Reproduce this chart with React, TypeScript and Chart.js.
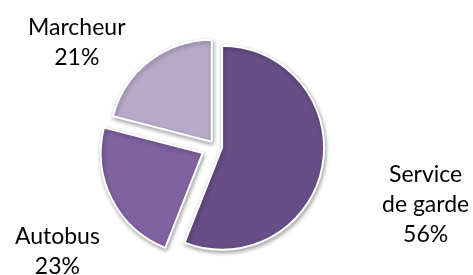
import React, { useEffect, useRef } from "react";
import { Chart, registerables } from "chart.js";

Chart.register(...registerables);

// ---- data ----
const categories = ["Service de garde", "Autobus", "Marcheur"];
const categoryLines = [["Service", "de garde"], ["Autobus"], ["Marcheur"]];
const values = [56, 23, 21];
const sliceColors = ["#684E86", "#8062A1", "#B7AAC9"];

// ---- layout (not data) ----
const explodePx = [6.7, 14.3, 6.1];
// label block centres, in units of the pie radius, relative to the pie centre
const labelAnchors = [
  [2.06, 0.56],
  [-1.55, 1.02],
  [-1.36, -1.02],
];

const explodePlugin = {
  id: "explode",
  afterDatasetUpdate(chart: any, args: any) {
    const meta = args.meta;
    const els = meta.data;
    if (!els.length) return;
    chart.$pieCenter = { x: els[0].x, y: els[0].y, r: els[0].outerRadius };
    els.forEach((el: any, i: number) => {
      const mid = (el.startAngle + el.endAngle) / 2;
      const d = explodePx[i] || 0;
      el.x = chart.$pieCenter.x + Math.cos(mid) * d;
      el.y = chart.$pieCenter.y + Math.sin(mid) * d;
    });
  },
};

const shadowPlugin = {
  id: "sliceShadow",
  beforeDatasetsDraw(chart: any) {
    const ctx = chart.ctx;
    ctx.save();
    ctx.shadowColor = "rgba(0,0,0,0.35)";
    ctx.shadowBlur = 4;
    ctx.shadowOffsetX = 1;
    ctx.shadowOffsetY = 2;
  },
  afterDatasetsDraw(chart: any) {
    chart.ctx.restore();
  },
};

const labelPlugin = {
  id: "pieLabels",
  afterDraw(chart: any) {
    const c = chart.$pieCenter;
    if (!c) return;
    const ctx = chart.ctx;
    const total = values.reduce((a, b) => a + b, 0);
    ctx.save();
    ctx.fillStyle = "#000000";
    ctx.font = "23px Lato, 'Open Sans', sans-serif";
    ctx.textAlign = "center";
    ctx.textBaseline = "alphabetic";
    const lh = 30;
    values.forEach((v, i) => {
      const lines = [...categoryLines[i], Math.round((v / total) * 100) + "%"];
      const cx = c.x + labelAnchors[i][0] * c.r;
      const cy = c.y + labelAnchors[i][1] * c.r;
      lines.forEach((t, k) => {
        const y = cy + (k - (lines.length - 1) / 2) * lh + 8;
        ctx.fillText(t, cx, y);
      });
    });
    ctx.restore();
  },
};

export default function App() {
  const ref = useRef<HTMLCanvasElement | null>(null);
  useEffect(() => {
    if (!ref.current) return;
    const chart = new Chart(ref.current, {
      type: "pie",
      data: {
        labels: categories,
        datasets: [
          {
            data: values,
            backgroundColor: sliceColors,
            borderColor: "#FFFFFF",
            borderWidth: 2,
          },
        ],
      },
      options: {
        responsive: false,
        animation: false,
        radius: 102,
        layout: { padding: { left: 0, right: 42, top: 18, bottom: 0 } },
        plugins: {
          legend: { display: false },
          tooltip: { enabled: false },
        },
      },
      plugins: [explodePlugin, shadowPlugin, labelPlugin],
    });
    return () => chart.destroy();
  }, []);
  return (
    <div style={{ position: "fixed", left: 0, top: 0, width: 473, height: 275, background: "#fff" }}>
      <canvas ref={ref} width={473} height={275} style={{ width: 473, height: 275, display: "block" }} />
    </div>
  );
}
